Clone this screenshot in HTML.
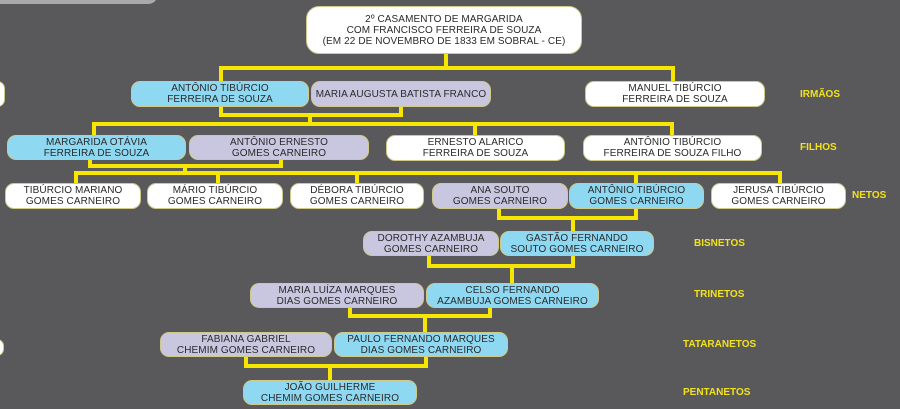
<!DOCTYPE html>
<html><head><meta charset="utf-8"><style>
body{margin:0;width:900px;height:409px;background:#59595b;position:relative;overflow:hidden;font-family:"Liberation Sans",sans-serif}
.b{position:absolute;box-sizing:border-box;border:1px solid #cfc98a;border-radius:9px;display:flex;align-items:center;justify-content:center;text-align:center;font-size:10px;line-height:11px;color:#2a2a2a;letter-spacing:0.1px}
.w{background:#fff}.c{background:#8fd8f2}.l{background:#c9c6df}
.h{position:absolute;background:#f7e600}
.t{position:absolute;color:#f2e21c;font-weight:bold;font-size:10px}
</style></head><body>
<div style="position:absolute;left:-20px;top:-20px;width:178px;height:24px;background:#a9a9ab;border-radius:10px"></div>
<div class="b w" style="left:-10px;top:81px;width:15px;height:26px"></div>
<div class="b w" style="left:-10px;top:339px;width:14px;height:17px"></div>
<!-- lines -->
<div class="h" style="left:444px;top:54px;width:4px;height:16px"></div>
<div class="h" style="left:219px;top:66px;width:456px;height:4px"></div>
<div class="h" style="left:219px;top:66px;width:4px;height:16px"></div>
<div class="h" style="left:671px;top:66px;width:4px;height:16px"></div>
<div class="h" style="left:219px;top:107px;width:4px;height:10px"></div>
<div class="h" style="left:399px;top:107px;width:4px;height:10px"></div>
<div class="h" style="left:219px;top:113px;width:184px;height:4px"></div>
<div class="h" style="left:308px;top:113px;width:4px;height:13px"></div>
<div class="h" style="left:92px;top:122px;width:582px;height:4px"></div>
<div class="h" style="left:92px;top:122px;width:4px;height:14px"></div>
<div class="h" style="left:473px;top:122px;width:4px;height:14px"></div>
<div class="h" style="left:670px;top:122px;width:4px;height:14px"></div>
<div class="h" style="left:88px;top:160px;width:4px;height:8px"></div>
<div class="h" style="left:279px;top:160px;width:4px;height:8px"></div>
<div class="h" style="left:88px;top:164px;width:195px;height:4px"></div>
<div class="h" style="left:183px;top:164px;width:4px;height:11px"></div>
<div class="h" style="left:74px;top:171px;width:708px;height:4px"></div>
<div class="h" style="left:74px;top:171px;width:4px;height:13px"></div>
<div class="h" style="left:216px;top:171px;width:4px;height:13px"></div>
<div class="h" style="left:355px;top:171px;width:4px;height:13px"></div>
<div class="h" style="left:634px;top:171px;width:4px;height:13px"></div>
<div class="h" style="left:778px;top:171px;width:4px;height:13px"></div>
<div class="h" style="left:497px;top:209px;width:4px;height:11px"></div>
<div class="h" style="left:634px;top:209px;width:4px;height:11px"></div>
<div class="h" style="left:497px;top:216px;width:141px;height:4px"></div>
<div class="h" style="left:571px;top:216px;width:4px;height:16px"></div>
<div class="h" style="left:427px;top:256px;width:4px;height:12px"></div>
<div class="h" style="left:571px;top:256px;width:4px;height:12px"></div>
<div class="h" style="left:427px;top:264px;width:148px;height:4px"></div>
<div class="h" style="left:510px;top:264px;width:4px;height:20px"></div>
<div class="h" style="left:348px;top:308px;width:4px;height:10px"></div>
<div class="h" style="left:488px;top:308px;width:4px;height:10px"></div>
<div class="h" style="left:348px;top:314px;width:144px;height:4px"></div>
<div class="h" style="left:423px;top:314px;width:4px;height:19px"></div>
<div class="h" style="left:244px;top:357px;width:4px;height:11px"></div>
<div class="h" style="left:424px;top:357px;width:4px;height:11px"></div>
<div class="h" style="left:244px;top:364px;width:184px;height:4px"></div>
<div class="h" style="left:328px;top:364px;width:4px;height:17px"></div>
<!-- boxes -->
<div class="b w" style="left:306px;top:6px;width:276px;height:48px;border-radius:13px">2º CASAMENTO DE MARGARIDA<br>COM FRANCISCO FERREIRA DE SOUZA<br>(EM 22 DE NOVEMBRO DE 1833 EM SOBRAL - CE)</div>
<div class="b c" style="left:131px;top:81px;width:178px;height:26px">ANTÔNIO TIBÚRCIO<br>FERREIRA DE SOUZA</div>
<div class="b l" style="left:311px;top:81px;width:180px;height:26px">MARIA AUGUSTA BATISTA FRANCO</div>
<div class="b w" style="left:585px;top:81px;width:180px;height:26px">MANUEL TIBÚRCIO<br>FERREIRA DE SOUZA</div>
<div class="b c" style="left:7px;top:135px;width:179px;height:25px">MARGARIDA OTÁVIA<br>FERREIRA DE SOUZA</div>
<div class="b l" style="left:189px;top:135px;width:180px;height:25px">ANTÔNIO ERNESTO<br>GOMES CARNEIRO</div>
<div class="b w" style="left:386px;top:135px;width:179px;height:26px">ERNESTO ALARICO<br>FERREIRA DE SOUZA</div>
<div class="b w" style="left:583px;top:135px;width:179px;height:26px">ANTÔNIO TIBÚRCIO<br>FERREIRA DE SOUZA FILHO</div>
<div class="b w" style="left:5px;top:183px;width:136px;height:26px">TIBÚRCIO MARIANO<br>GOMES CARNEIRO</div>
<div class="b w" style="left:147px;top:183px;width:136px;height:26px">MÁRIO TIBÚRCIO<br>GOMES CARNEIRO</div>
<div class="b w" style="left:290px;top:183px;width:134px;height:26px">DÉBORA TIBÚRCIO<br>GOMES CARNEIRO</div>
<div class="b l" style="left:432px;top:183px;width:136px;height:26px">ANA SOUTO<br>GOMES CARNEIRO</div>
<div class="b c" style="left:569px;top:183px;width:135px;height:26px">ANTÔNIO TIBÚRCIO<br>GOMES CARNEIRO</div>
<div class="b w" style="left:711px;top:183px;width:135px;height:26px">JERUSA TIBÚRCIO<br>GOMES CARNEIRO</div>
<div class="b l" style="left:363px;top:231px;width:136px;height:25px">DOROTHY AZAMBUJA<br>GOMES CARNEIRO</div>
<div class="b c" style="left:500px;top:231px;width:154px;height:25px">GASTÃO FERNANDO<br>SOUTO GOMES CARNEIRO</div>
<div class="b l" style="left:250px;top:283px;width:174px;height:25px">MARIA LUÍZA MARQUES<br>DIAS GOMES CARNEIRO</div>
<div class="b c" style="left:426px;top:283px;width:173px;height:25px">CELSO FERNANDO<br>AZAMBUJA GOMES CARNEIRO</div>
<div class="b l" style="left:160px;top:332px;width:172px;height:25px">FABIANA GABRIEL<br>CHEMIM GOMES CARNEIRO</div>
<div class="b c" style="left:334px;top:332px;width:174px;height:25px">PAULO FERNANDO MARQUES<br>DIAS GOMES CARNEIRO</div>
<div class="b c" style="left:243px;top:380px;width:174px;height:25px">JOÃO GUILHERME<br>CHEMIM GOMES CARNEIRO</div>
<!-- labels -->
<div class="t" style="left:800px;top:89px">IRMÃOS</div>
<div class="t" style="left:800px;top:142px">FILHOS</div>
<div class="t" style="left:852px;top:190px">NETOS</div>
<div class="t" style="left:694px;top:238px">BISNETOS</div>
<div class="t" style="left:694px;top:289px">TRINETOS</div>
<div class="t" style="left:683px;top:339px">TATARANETOS</div>
<div class="t" style="left:683px;top:387px">PENTANETOS</div>
</body></html>
